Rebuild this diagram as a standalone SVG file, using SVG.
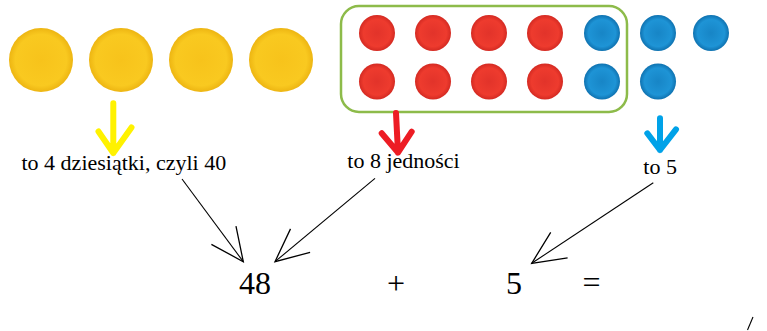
<svg xmlns="http://www.w3.org/2000/svg" width="767" height="331" viewBox="0 0 767 331">
<style>
.lbl{font-family:'Liberation Serif','DejaVu Serif',serif;font-size:22px;fill:#000}
.num{font-family:'Liberation Serif','DejaVu Serif',serif;font-size:32px;fill:#000}
.conn{fill:none;stroke:#000;stroke-width:1.1}
.arr{fill:none;stroke-width:6;stroke-linecap:round;stroke-linejoin:round}
</style>
<defs>
<radialGradient id="gy" cx="0.5" cy="0.5" r="0.5">
<stop offset="0" stop-color="#F7C31B"/><stop offset="0.8" stop-color="#F9C920"/><stop offset="1" stop-color="#EDB512"/>
</radialGradient>
<radialGradient id="gr" cx="0.5" cy="0.5" r="0.5">
<stop offset="0" stop-color="#E2332A"/><stop offset="0.75" stop-color="#EE3B2E"/><stop offset="1" stop-color="#D42A22"/>
</radialGradient>
<radialGradient id="gb" cx="0.5" cy="0.5" r="0.5">
<stop offset="0" stop-color="#1785C6"/><stop offset="0.75" stop-color="#1E94D6"/><stop offset="1" stop-color="#0F72B0"/>
</radialGradient>
<marker id="head" markerUnits="userSpaceOnUse" markerWidth="40" markerHeight="40" viewBox="-32 -16 34 32" refX="0" refY="0" orient="auto">
<path d="M-28,-13 L0,0 L-28,13" fill="none" stroke="#000" stroke-width="1.1"/>
</marker>
</defs>
<rect width="767" height="331" fill="#fff"/>
<g id="tens">
<circle cx="41" cy="60" r="32" fill="url(#gy)"/>
<circle cx="121" cy="60" r="32" fill="url(#gy)"/>
<circle cx="201" cy="60" r="32" fill="url(#gy)"/>
<circle cx="281" cy="60" r="32" fill="url(#gy)"/>
</g>
<g id="ten-frame">
<rect x="341" y="6" width="286" height="106" rx="18" fill="none" stroke="#8DBB4A" stroke-width="2.5"/>
<circle cx="377" cy="33" r="18" fill="url(#gr)"/>
<circle cx="433" cy="33" r="18" fill="url(#gr)"/>
<circle cx="489" cy="33" r="18" fill="url(#gr)"/>
<circle cx="545" cy="33" r="18" fill="url(#gr)"/>
<circle cx="377" cy="81.5" r="18" fill="url(#gr)"/>
<circle cx="433" cy="81.5" r="18" fill="url(#gr)"/>
<circle cx="489" cy="81.5" r="18" fill="url(#gr)"/>
<circle cx="545" cy="81.5" r="18" fill="url(#gr)"/>
<circle cx="602" cy="33" r="18" fill="url(#gb)"/>
<circle cx="602" cy="81.5" r="18" fill="url(#gb)"/>
</g>
<g id="extra-ones">
<circle cx="658" cy="33" r="18" fill="url(#gb)"/>
<circle cx="711" cy="33" r="18" fill="url(#gb)"/>
<circle cx="658" cy="81.5" r="18" fill="url(#gb)"/>
</g>
<g id="colour-arrows">
<path class="arr" stroke="#FFF200" d="M113.3,103.3 L113.3,153 M98.5,131.5 L113.3,153 L131.5,127.5"/>
<path class="arr" stroke="#ED1C24" d="M396,113 L398,152.5 M381.7,133.3 L398,152.5 L411.7,131.7"/>
<path class="arr" stroke="#00A2E8" d="M660,118.3 L660,150 M647.3,133.3 L660,150 L676,129.3"/>
</g>
<g id="label-tens"><text class="lbl" x="21.5" y="170">to 4 dziesiątki, czyli 40</text></g>
<g id="label-ones"><text class="lbl" x="347.3" y="168.3">to 8 jedności</text></g>
<g id="label-five"><text class="lbl" x="643.3" y="174">to 5</text></g>
<g id="connectors">
<line class="conn" x1="182" y1="179" x2="243.3" y2="261.7" marker-end="url(#head)"/>
<line class="conn" x1="375" y1="178.3" x2="275" y2="261.7" marker-end="url(#head)"/>
<line class="conn" x1="653.3" y1="182.7" x2="531.7" y2="263.3" marker-end="url(#head)"/>
<line class="conn" x1="753" y1="317" x2="747.5" y2="330"/>
</g>
<g id="equation">
<text class="num" x="239" y="294">48</text>
<text class="num" x="396" y="294" text-anchor="middle">+</text>
<text class="num" x="506" y="294">5</text>
<text class="num" x="591.5" y="292.5" text-anchor="middle">=</text>
</g>
</svg>
